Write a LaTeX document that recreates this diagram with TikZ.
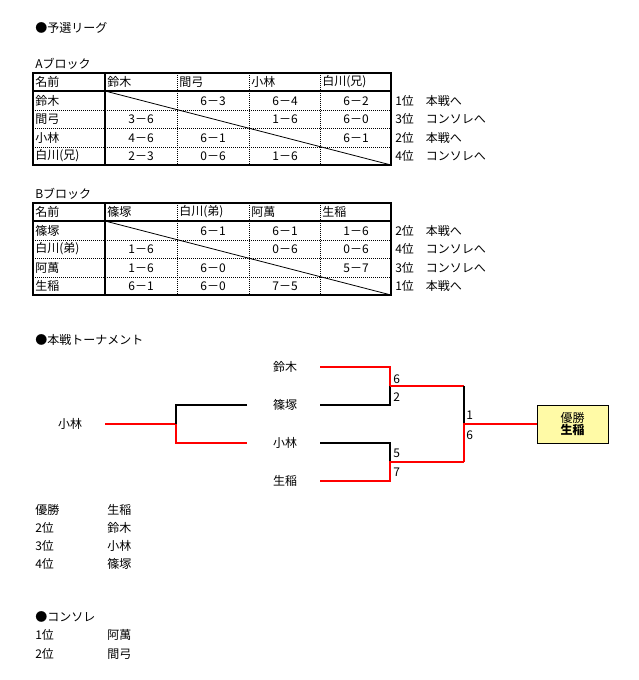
\documentclass[tikz,border=0pt]{standalone}
\usepackage{fontspec}
\setmainfont{Noto Sans CJK JP}
\begin{document}
\begin{tikzpicture}[x=0.75pt,y=-0.75pt,font=\fontsize{9}{10}\selectfont,
 t/.style={anchor=west,inner sep=0pt},
 c/.style={inner sep=0pt},
 dot/.style={densely dotted,line width=0.5pt},
 thick1/.style={line width=1.3pt},
 rl/.style={red,line width=1.2pt},
 bl/.style={black,line width=1.2pt}]
\fill[white] (0,0) rectangle (638,680);
\node[t] (h1) at (35,28) {●予選リーグ};
% tables
\foreach \yo/\lab/\tag in {0/Aブロック/A,130/Bブロック/B}{
 \begin{scope}[yshift=-\yo*0.75pt]
 \node[t] (title\tag) at (35,64) {\lab};
 \foreach \x in {177,249,320} \draw[dot] (\x,73) -- (\x,165);
 \foreach \y in {110,128,147} \draw[dot] (33,\y) -- (391,\y);
 \draw[line width=0.6pt] (105,91) -- (391,165);
 \draw[thick1] (105,73) -- (105,165);
 \draw[thick1] (33,91) -- (391,91);
 \draw[thick1] (33,73) rectangle (391,165);
 \end{scope}}
% Table A text
\node[t] (a00) at (35,82) {名前};
\node[t] (a01) at (107,82) {鈴木};
\node[t] (a02) at (179,82) {間弓};
\node[t] (a03) at (251,82) {小林};
\node[t] (a04) at (322,82) {白川(兄)};
\node[t] (a10) at (35,101) {鈴木};
\node[t] (a20) at (35,119) {間弓};
\node[t] (a30) at (35,138) {小林};
\node[t] (a40) at (35,156) {白川(兄)};
\node[c] (a12) at (213,101) {6－3};
\node[c] (a13) at (285,101) {6－4};
\node[c] (a14) at (356,101) {6－2};
\node[c] (a21) at (141,119) {3－6};
\node[c] (a23) at (285,119) {1－6};
\node[c] (a24) at (356,119) {6－0};
\node[c] (a31) at (141,138) {4－6};
\node[c] (a32) at (213,138) {6－1};
\node[c] (a34) at (356,138) {6－1};
\node[c] (a41) at (141,156) {2－3};
\node[c] (a42) at (213,156) {0－6};
\node[c] (a43) at (285,156) {1－6};
\node[t] (ar1) at (395,101) {1位　本戦へ};
\node[t] (ar2) at (395,119) {3位　コンソレへ};
\node[t] (ar3) at (395,138) {2位　本戦へ};
\node[t] (ar4) at (395,156) {4位　コンソレへ};
% Table B text
\node[t] (b00) at (35,212) {名前};
\node[t] (b01) at (107,212) {篠塚};
\node[t] (b02) at (179,212) {白川(弟)};
\node[t] (b03) at (251,212) {阿萬};
\node[t] (b04) at (322,212) {生稲};
\node[t] (b10) at (35,231) {篠塚};
\node[t] (b20) at (35,249) {白川(弟)};
\node[t] (b30) at (35,268) {阿萬};
\node[t] (b40) at (35,286) {生稲};
\node[c] (b12) at (213,231) {6－1};
\node[c] (b13) at (285,231) {6－1};
\node[c] (b14) at (356,231) {1－6};
\node[c] (b21) at (141,249) {1－6};
\node[c] (b23) at (285,249) {0－6};
\node[c] (b24) at (356,249) {0－6};
\node[c] (b31) at (141,268) {1－6};
\node[c] (b32) at (213,268) {6－0};
\node[c] (b34) at (356,268) {5－7};
\node[c] (b41) at (141,286) {6－1};
\node[c] (b42) at (213,286) {6－0};
\node[c] (b43) at (285,286) {7－5};
\node[t] (br1) at (395,231) {2位　本戦へ};
\node[t] (br2) at (395,249) {4位　コンソレへ};
\node[t] (br3) at (395,268) {3位　コンソレへ};
\node[t] (br4) at (395,286) {1位　本戦へ};
% tournament
\node[t] (h2) at (35,340) {●本戦トーナメント};
\node[c] (p1) at (285,367) {鈴木};
\node[c] (p2) at (285,405) {篠塚};
\node[c] (p3) at (285,443) {小林};
\node[c] (p4) at (285,481) {生稲};
\node[c] (p0) at (70,424) {小林};
\draw[rl] (105,424) -- (176,424);
\draw[bl] (247,405) -- (176,405) -- (176,424);
\draw[rl] (176,424) -- (176,443) -- (247,443);
\draw[rl] (320,367) -- (390,367) -- (390,386);
\draw[bl] (320,405) -- (390,405) -- (390,386);
\draw[rl] (390,386) -- (464,386);
\draw[bl] (320,443) -- (390,443) -- (390,462);
\draw[rl] (320,481) -- (390,481) -- (390,462) -- (464,462);
\draw[bl] (464,386) -- (464,424);
\draw[rl] (464,462) -- (464,424) -- (537,424);
\node[draw,fill=yellow!35,minimum width=53pt,minimum height=28.5pt,align=center,inner sep=0pt,anchor=west,line width=0.6pt] (win) at (537,424) {優勝\\[-1pt]\textbf{生稲}};
\node[t] (s1) at (393,379) {6};
\node[t] (s2) at (393,397) {2};
\node[t] (s3) at (393,453) {5};
\node[t] (s4) at (393,472) {7};
\node[t] (s5) at (466,415) {1};
\node[t] (s6) at (466,435) {6};
% results
\node[t] (r1) at (35,510) {優勝};\node[t] (r1b) at (107,510) {生稲};
\node[t] (r2) at (35,528) {2位};\node[t] (r2b) at (107,528) {鈴木};
\node[t] (r3) at (35,546) {3位};\node[t] (r3b) at (107,546) {小林};
\node[t] (r4) at (35,564) {4位};\node[t] (r4b) at (107,564) {篠塚};
\node[t] (h3) at (35,617) {●コンソレ};
\node[t] (c1) at (35,635) {1位};\node[t] (c1b) at (107,635) {阿萬};
\node[t] (c2) at (35,654) {2位};\node[t] (c2b) at (107,654) {間弓};
\end{tikzpicture}
\end{document}
